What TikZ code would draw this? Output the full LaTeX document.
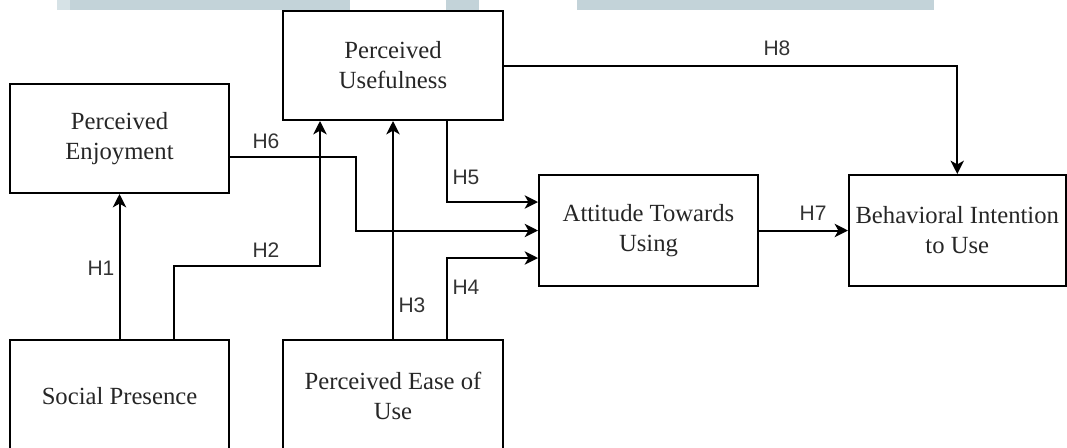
\documentclass[tikz,border=0pt]{standalone}
\usepackage{fontspec}
\setmainfont{Liberation Serif}
\newfontfamily\hfont{Liberation Sans}
\usetikzlibrary{arrows.meta,calc}
\definecolor{bandc}{HTML}{C3D3D9}
\definecolor{bandl}{HTML}{D6E2E6}
\begin{document}
\begin{tikzpicture}[x=0.75pt,y=-0.75pt,
  box/.style={draw=black, line width=1.5pt, inner sep=0pt, align=center,
    font=\fontsize{18.5}{22.5}\selectfont, text=black!85},
  arr/.style={draw=black, line width=1.5pt, -{Stealth[length=10pt,width=10pt,inset=2.8pt]}},
  hlab/.style={font=\hfont\fontsize{15.75}{18}\selectfont, text=black!80, inner sep=0pt},
  band/.style={fill=bandc, draw=none}]
\useasboundingbox (0,0) rectangle (1067,447);
\clip (0,0) rectangle (1067,447);
% faint band at the top
\fill[bandl] (57,0) rectangle (70,10);
\fill[band] (70,0) rectangle (350,10);
\fill[band] (446,0) rectangle (479,10);
\fill[band] (577,0) rectangle (934,10);
% boxes
\node[box, minimum width=165pt, minimum height=81.75pt] (pu) at (393,65.5) {Perceived\\Usefulness};
\node[box, minimum width=164.25pt, minimum height=81.75pt] (enj) at (119.5,138.5) {Perceived\\Enjoyment};
\node[box, minimum width=164.25pt, minimum height=83.25pt] (att) at (648.5,230.5) {Attitude Towards\\Using};
\node[box, minimum width=162.4pt, minimum height=83.25pt] (bi) at (957.25,230.5) {Behavioral Intention\\to Use};
\node[box, minimum width=164.25pt, minimum height=84pt] (sp) at (119.5,396) {Social Presence};
\node[box, minimum width=165pt, minimum height=84pt] (peou) at (393,396) {Perceived Ease of\\Use};
% connectors
\draw[arr] (sp.north) -- (enj.south);
\draw[arr] ($(sp.north)+(54.5,0)$) -- ++(0,-73) -| ($(pu.south)+(-73,0)$);
\draw[arr] (peou.north) -- (pu.south);
\draw[arr] ($(peou.north)+(54,0)$) |- ($(att.west)+(0,27.5)$);
\draw[arr] ($(pu.south)+(54,0)$) |- ($(att.west)+(0,-28.5)$);
\coordinate (h6c) at (356,230.5);
\draw[arr] ($(enj.east)+(0,18.5)$) -| (h6c) -- (att.west);
\draw[arr] (att.east) -- (bi.west);
\draw[arr] (pu.east) -| (bi.north);
% labels
\node[hlab] (l1) at (101,268) {H1};
\node[hlab] (l2) at (266,250) {H2};
\node[hlab] (l3) at (412,305) {H3};
\node[hlab] (l4) at (466,287) {H4};
\node[hlab] (l5) at (466,177) {H5};
\node[hlab] (l6) at (266,141) {H6};
\node[hlab] (l7) at (813,213) {H7};
\node[hlab] (l8) at (777,48) {H8};
\end{tikzpicture}
\end{document}
